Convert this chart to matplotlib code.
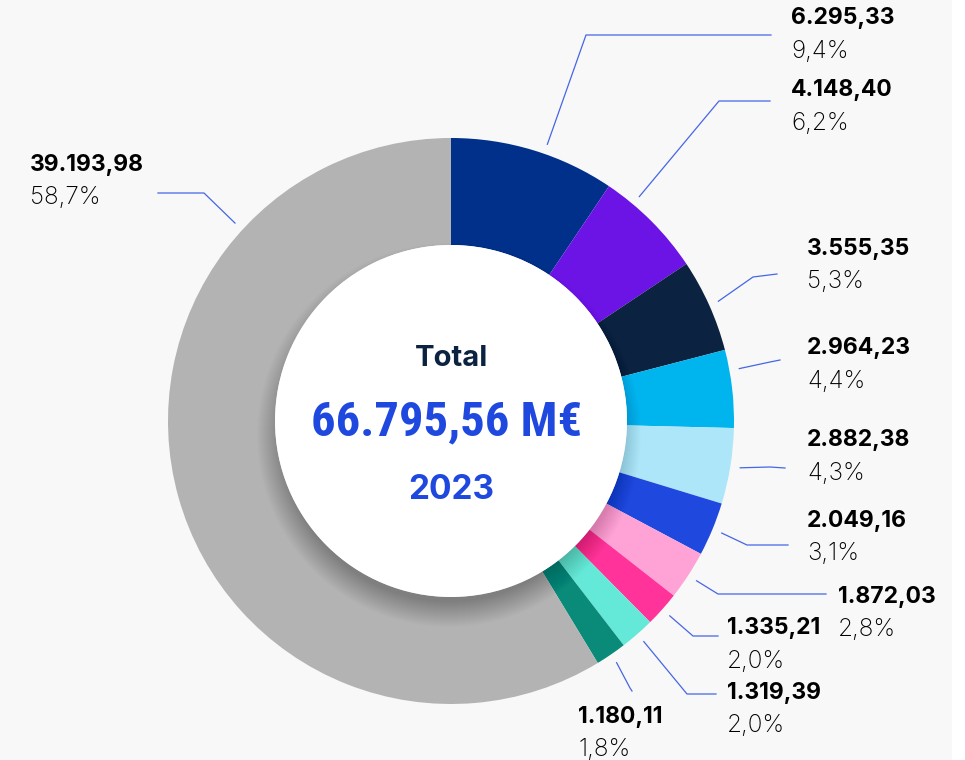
import numpy as np
import matplotlib; matplotlib.use("Agg"); import matplotlib.pyplot as plt
import matplotlib.font_manager as fm
from matplotlib.patches import Circle, Rectangle

# data (M€, 2023), clockwise from 12 o'clock
values = [6295.33, 4148.40, 3555.35, 2964.23, 2882.38, 2049.16,
          1872.03, 1335.21, 1319.39, 1180.11, 39193.98]
value_labels = ["6.295,33", "4.148,40", "3.555,35", "2.964,23", "2.882,38", "2.049,16",
                "1.872,03", "1.335,21", "1.319,39", "1.180,11", "39.193,98"]
pct_labels = ["9,4%", "6,2%", "5,3%", "4,4%", "4,3%", "3,1%",
              "2,8%", "2,0%", "2,0%", "1,8%", "58,7%"]
colors = ["#00308A", "#6C14E6", "#0B2340", "#00B4EE", "#AEE6F9", "#1F48DF",
          "#FFA3D6", "#FF3399", "#64E9D8", "#0A8B79", "#B3B3B3"]
total_txt = "66.795,56 M€"
year_txt = "2023"


def condensed_bold():
    prefs = ["Roboto Condensed", "Liberation Sans Narrow", "DejaVu Sans Condensed",
             "Open Sans Condensed", "Noto Sans Condensed"]
    fl = fm.fontManager.ttflist
    for p in prefs:
        for f in fl:
            if f.name == p and f.weight in (700, "bold") and "Italic" not in f.fname:
                return fm.FontProperties(fname=f.fname)
    for f in fl:
        if "ondensed" in str(f.stretch) + f.fname and f.weight in (600, 700, 800, "bold") \
                and "Italic" not in f.fname and "Oblique" not in f.fname:
            return fm.FontProperties(fname=f.fname)
    return None


W, H = 965, 760
fig = plt.figure(figsize=(W / 100, H / 100), dpi=100, facecolor="#F8F8F8")
ax = fig.add_axes([0, 0, 1, 1])
ax.set_facecolor("#F8F8F8")

cx, cy, R, r_in = 451, 421, 283, 176
# y axis is inverted below, so counterclock=True runs clockwise on screen
wedges, _ = ax.pie(values, colors=colors, startangle=-90, counterclock=True,
                   center=(cx, cy), radius=R, wedgeprops=dict(width=R - r_in, linewidth=0),
                   frame=True)
ax.set_xlim(0, W); ax.set_ylim(H, 0); ax.set_aspect("equal"); ax.axis("off")
ax.add_patch(Rectangle((952, 0), 20, H, color="white", lw=0, zorder=1))

# soft shadow under the centre disc
for i in range(26):
    ax.add_patch(Circle((cx - 2, cy + 14), r_in + 16 - i, color="black", alpha=0.008,
                        lw=0, zorder=3))
ax.add_patch(Circle((cx, cy), r_in, color="white", lw=0, zorder=4))

ax.text(cx, 358, "Total", ha="center", va="center", fontsize=21, fontweight="bold",
        color="#0B2340", family="Inter", zorder=5)
fp = condensed_bold()
if fp is not None:
    fp.set_size(35)
    ax.text(cx - 4, 422, total_txt, ha="center", va="center", fontproperties=fp,
            color="#1F48DF", zorder=5)
else:
    ax.text(cx - 4, 422, total_txt, ha="center", va="center", fontsize=30, fontweight="bold",
            color="#1F48DF", family="Roboto", zorder=5)
ax.text(cx, 490, year_txt, ha="center", va="center", fontsize=24, fontweight="bold",
        color="#1F48DF", family="Inter", zorder=5)

# leader layout: (elbow, end, text position)
layout = [
    ((586, 35), (771, 35), (791, 18)),
    ((719, 101), (770, 101), (791, 90)),
    ((753, 277), (777, 274), (807, 249)),
    ((770, 362), (780, 360), (807, 348)),
    ((770, 467), (785, 468), (807, 440)),
    ((747, 545), (788, 545), (807, 521)),
    ((718, 594), (826, 594), (838, 597)),
    ((693, 636), (718, 636), (727, 628)),
    ((687, 694), (716, 694), (727, 693)),
    ((630, 688), (632, 691), (578, 717)),
    ((204, 193), (158, 193), (30, 165)),
]
# labels whose leader does not start at the slice middle (degrees, math convention)
anchor_override = {0: 70.8, 1: 50.0, 3: 10.3, 10: 137.5}
cum = np.cumsum([0] + values[:-1])
tot = sum(values)
for k, (v, c0, lab, pct, (elb, end, tpos)) in enumerate(zip(values, cum, value_labels, pct_labels, layout)):
    ang = anchor_override.get(k, 90 - 360 * (c0 + v / 2) / tot)
    a = np.deg2rad(ang)
    sx, sy = cx + 293 * np.cos(a), cy - 293 * np.sin(a)
    ax.plot([sx, elb[0], end[0]], [sy, elb[1], end[1]], color="#4566E6", lw=0.9, zorder=2)
    tx, ty = tpos
    ax.text(tx, ty, lab, ha="left", va="center", fontsize=16.5, fontweight="bold",
            color="black", family="Inter")
    ax.text(tx, ty + 33, pct, ha="left", va="center", fontsize=17.5, fontweight="light",
            color="black", family="Inter")

fig.savefig("out.png", dpi=100, facecolor=fig.get_facecolor())
